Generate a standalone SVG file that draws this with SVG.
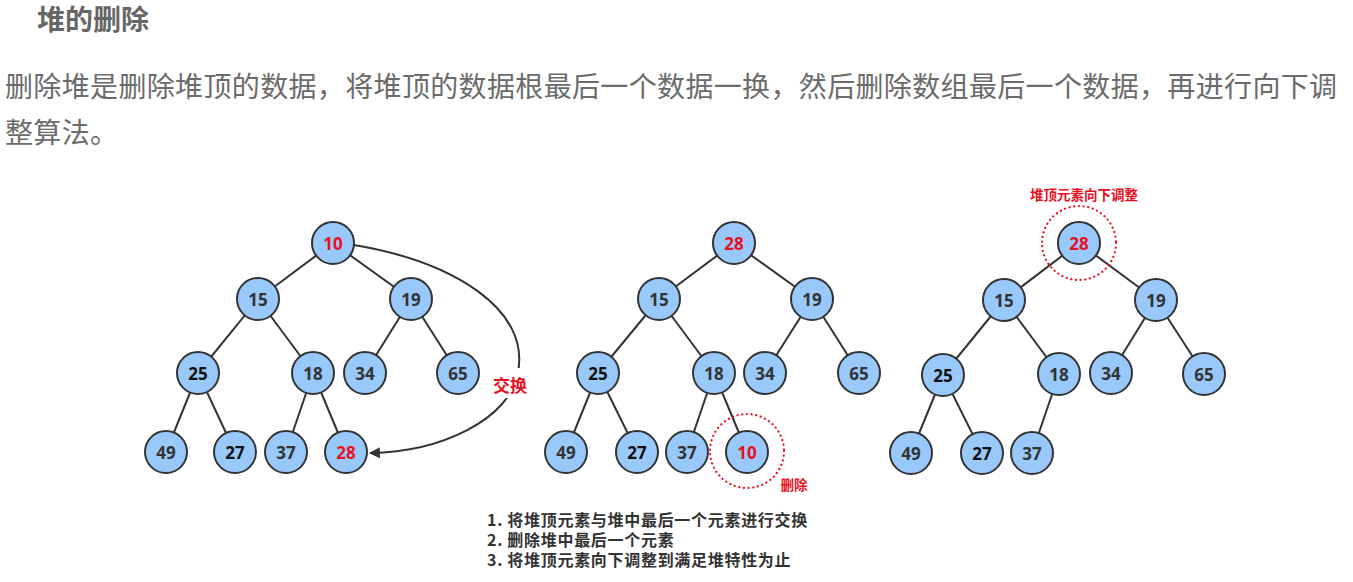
<svg xmlns="http://www.w3.org/2000/svg" width="1353" height="582" viewBox="0 0 1353 582">
<defs>
<style>
.t{font-family:"Noto Sans","Noto Sans CJK SC",sans-serif;}
.title{font-size:28px;font-weight:700;fill:#666;}
.para{font-size:28px;letter-spacing:0.35px;fill:#6b6b6b;}
.n circle{fill:#99c9fb;stroke:#333;stroke-width:2;}
.n text{font-family:"Open Sans","Noto Sans",sans-serif;font-size:17px;font-weight:700;fill:#333;text-anchor:middle;dominant-baseline:central;}
.n text.red{fill:#e8101f;}
.n text.dk{fill:#111;}
.e line{stroke:#333;stroke-width:2;}
.dot{fill:none;stroke:#e8101f;stroke-width:2.2;stroke-dasharray:0.1 4.6;stroke-linecap:round;}
.lbl{font-family:"Noto Sans CJK SC","Noto Sans",sans-serif;font-weight:700;fill:#e8101f;text-anchor:middle;}
.steps{font-family:"Noto Sans CJK SC","Noto Sans",sans-serif;font-size:16px;letter-spacing:0.7px;font-weight:700;fill:#333;}
</style>
<marker id="arr" viewBox="0 0 10 10" refX="9" refY="5" markerWidth="11" markerHeight="11" markerUnits="userSpaceOnUse" orient="auto">
<path d="M0,0 L10,5 L0,10 z" fill="#333"/>
</marker>
</defs>
<rect width="1353" height="582" fill="#fff"/>
<text class="t title" x="37" y="30">堆的删除</text>
<text class="t para" x="5" y="97">删除堆是删除堆顶的数据，将堆顶的数据根最后一个数据一换，然后删除数组最后一个数据，再进行向下调</text>
<text class="t para" x="5" y="143">整算法。</text>

<g id="connectors" class="e">
<line x1="333" y1="243" x2="258" y2="299"/><line x1="333" y1="243" x2="411" y2="299"/>
<line x1="258" y1="299" x2="198" y2="373"/><line x1="258" y1="299" x2="313" y2="373"/>
<line x1="411" y1="299" x2="365" y2="373"/><line x1="411" y1="299" x2="458" y2="373"/>
<line x1="198" y1="373" x2="166" y2="452"/><line x1="198" y1="373" x2="235" y2="452"/>
<line x1="313" y1="373" x2="286" y2="452"/><line x1="313" y1="373" x2="346" y2="452"/>

<line x1="734" y1="243" x2="659" y2="299"/><line x1="734" y1="243" x2="812" y2="299"/>
<line x1="659" y1="299" x2="598" y2="373"/><line x1="659" y1="299" x2="714" y2="373"/>
<line x1="812" y1="299" x2="765" y2="373"/><line x1="812" y1="299" x2="859" y2="373"/>
<line x1="598" y1="373" x2="566" y2="452"/><line x1="598" y1="373" x2="637" y2="452"/>
<line x1="714" y1="373" x2="687" y2="452"/><line x1="714" y1="373" x2="747" y2="452"/>

<line x1="1079" y1="243" x2="1004" y2="300"/><line x1="1079" y1="243" x2="1156" y2="300"/>
<line x1="1004" y1="300" x2="943" y2="375"/><line x1="1004" y1="300" x2="1059" y2="374"/>
<line x1="1156" y1="300" x2="1111" y2="373"/><line x1="1156" y1="300" x2="1204" y2="374"/>
<line x1="943" y1="375" x2="911" y2="453"/><line x1="943" y1="375" x2="982" y2="453"/>
<line x1="1059" y1="374" x2="1032" y2="453"/>

<path d="M354,245 C455,262 530,310 518,372 C510,420 440,452 370,453" fill="none" stroke="#333" stroke-width="2" marker-end="url(#arr)"/>
<rect x="490" y="368" width="42" height="30" fill="#fff"/>
<text class="lbl" x="510" y="392" font-size="17">交换</text>
</g>

<g id="tree1">
<g id="t1-10" class="n"><circle cx="333" cy="243" r="21"/><text class="red" x="333" y="243">10</text></g>
<g id="t1-15" class="n"><circle cx="258" cy="299" r="21"/><text x="258" y="299">15</text></g>
<g id="t1-19" class="n"><circle cx="411" cy="299" r="21"/><text x="411" y="299">19</text></g>
<g id="t1-25" class="n"><circle cx="198" cy="373" r="21"/><text class="dk" x="198" y="373">25</text></g>
<g id="t1-18" class="n"><circle cx="313" cy="373" r="21"/><text x="313" y="373">18</text></g>
<g id="t1-34" class="n"><circle cx="365" cy="373" r="21"/><text x="365" y="373">34</text></g>
<g id="t1-65" class="n"><circle cx="458" cy="373" r="21"/><text x="458" y="373">65</text></g>
<g id="t1-49" class="n"><circle cx="166" cy="452" r="21"/><text x="166" y="452">49</text></g>
<g id="t1-27" class="n"><circle cx="235" cy="452" r="21"/><text class="dk" x="235" y="452">27</text></g>
<g id="t1-37" class="n"><circle cx="286" cy="452" r="21"/><text x="286" y="452">37</text></g>
<g id="t1-28" class="n"><circle cx="346" cy="452" r="21"/><text class="red" x="346" y="452">28</text></g>
</g>

<g id="tree2">
<g id="t2-28" class="n"><circle cx="734" cy="243" r="21"/><text class="red" x="734" y="243">28</text></g>
<g id="t2-15" class="n"><circle cx="659" cy="299" r="21"/><text x="659" y="299">15</text></g>
<g id="t2-19" class="n"><circle cx="812" cy="299" r="21"/><text x="812" y="299">19</text></g>
<g id="t2-25" class="n"><circle cx="598" cy="373" r="21"/><text class="dk" x="598" y="373">25</text></g>
<g id="t2-18" class="n"><circle cx="714" cy="373" r="21"/><text x="714" y="373">18</text></g>
<g id="t2-34" class="n"><circle cx="765" cy="373" r="21"/><text x="765" y="373">34</text></g>
<g id="t2-65" class="n"><circle cx="859" cy="373" r="21"/><text x="859" y="373">65</text></g>
<g id="t2-49" class="n"><circle cx="566" cy="452" r="21"/><text x="566" y="452">49</text></g>
<g id="t2-27" class="n"><circle cx="637" cy="452" r="21"/><text class="dk" x="637" y="452">27</text></g>
<g id="t2-37" class="n"><circle cx="687" cy="452" r="21"/><text x="687" y="452">37</text></g>
<g id="t2-10" class="n"><circle cx="747" cy="452" r="21"/><text class="red" x="747" y="452">10</text></g>
<circle class="dot" cx="747" cy="451" r="37"/>
<text class="lbl" x="794" y="490" font-size="13.5">删除</text>
</g>

<g id="tree3">
<text class="lbl" x="1084" y="200" font-size="13.5">堆顶元素向下调整</text>
<circle class="dot" cx="1079" cy="243" r="37"/>
<g id="t3-28" class="n"><circle cx="1079" cy="243" r="21"/><text class="red" x="1079" y="243">28</text></g>
<g id="t3-15" class="n"><circle cx="1004" cy="300" r="21"/><text x="1004" y="300">15</text></g>
<g id="t3-19" class="n"><circle cx="1156" cy="300" r="21"/><text x="1156" y="300">19</text></g>
<g id="t3-25" class="n"><circle cx="943" cy="375" r="21"/><text class="dk" x="943" y="375">25</text></g>
<g id="t3-18" class="n"><circle cx="1059" cy="374" r="21"/><text x="1059" y="374">18</text></g>
<g id="t3-34" class="n"><circle cx="1111" cy="373" r="21"/><text x="1111" y="373">34</text></g>
<g id="t3-65" class="n"><circle cx="1204" cy="374" r="21"/><text x="1204" y="374">65</text></g>
<g id="t3-49" class="n"><circle cx="911" cy="453" r="21"/><text x="911" y="453">49</text></g>
<g id="t3-27" class="n"><circle cx="982" cy="453" r="21"/><text class="dk" x="982" y="453">27</text></g>
<g id="t3-37" class="n"><circle cx="1032" cy="453" r="21"/><text x="1032" y="453">37</text></g>
</g>

<g id="steps">
<text class="steps" x="487" y="526">1. 将堆顶元素与堆中最后一个元素进行交换</text>
<text class="steps" x="487" y="546">2. 删除堆中最后一个元素</text>
<text class="steps" x="487" y="566">3. 将堆顶元素向下调整到满足堆特性为止</text>
</g>
</svg>
